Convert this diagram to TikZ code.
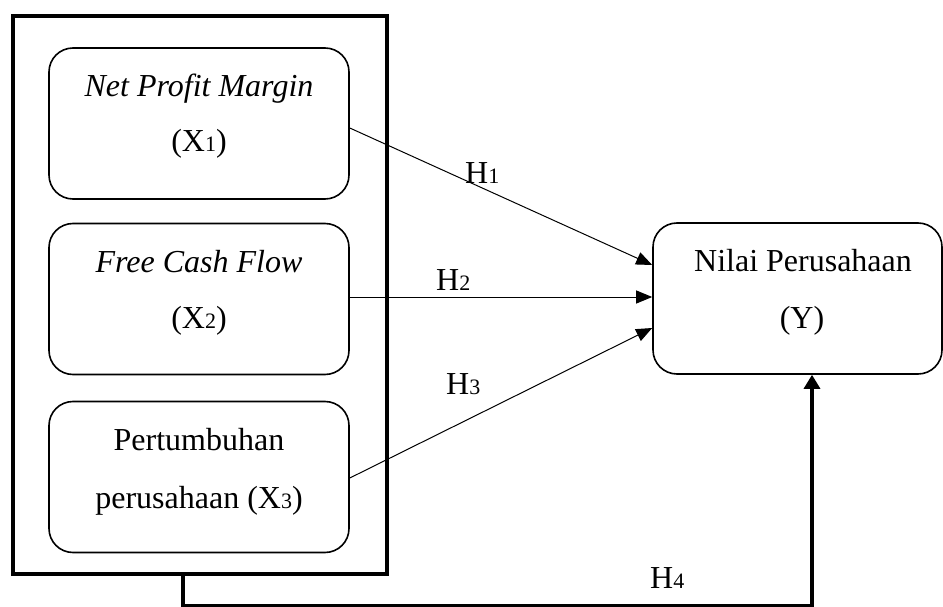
\documentclass[tikz,border=0pt]{standalone}
\usepackage{fontspec}
\setmainfont{Liberation Serif}
\usetikzlibrary{arrows.meta,calc}
\newcommand{\sbs}[1]{{\fontsize{22}{22}\selectfont #1}}
\begin{document}
\begin{tikzpicture}[x=1pt,y=-1pt,
  box/.style={draw,line width=1.6pt,rounded corners=24pt,minimum width=300pt,minimum height=151pt,inner sep=0pt},
  txt/.style={anchor=base,font=\fontsize{32}{38}\selectfont,inner sep=0pt},
  arr/.style={line width=1pt,-{Triangle[length=16pt,width=13pt]}},
  hl/.style={anchor=base west,font=\fontsize{32}{38}\selectfont,inner sep=0pt}]
\useasboundingbox (0,0) rectangle (943,607);
\node[draw,line width=4pt,minimum width=374pt,minimum height=558pt,inner sep=0pt] (outer) at (200,295) {};
\node[box] (b1) at (199,123.5) {};
\node[box] (b2) at (199,299) {};
\node[box] (b3) at (199,477) {};
\node[box,minimum width=289pt] (y) at (797.5,298.5) {};
\node[txt] (t1a) at (199,97) {\itshape Net Profit Margin};
\node[txt] (t1b) at (199,152) {(X\sbs{1})};
\node[txt] (t2a) at (199,272.7) {\itshape Free Cash Flow};
\node[txt] (t2b) at (199,328) {(X\sbs{2})};
\node[txt] (t3a) at (199,450) {Pertumbuhan};
\node[txt] (t3b) at (199,508) {perusahaan (X\sbs{3})};
\node[txt] (tya) at (803,271) {Nilai Perusahaan};
\node[txt] (tyb) at (802,328) {(Y)};
\draw[arr] (b1.east |- 0,128) -- (y.west |- 0,265);
\draw[arr] (b2.east |- 0,297) -- (y.west |- 0,297);
\draw[arr] (b3.east |- 0,478) -- (y.west |- 0,328);
\coordinate (c1) at (183,605.3);
\coordinate (c2) at (812,605.3);
\draw[line width=3.2pt,-{Triangle[length=14pt,width=16pt]}] (outer.south -| c1) -- (c1) -- (c2) -- (y.south -| c2);
\node[hl] (h1) at (465,183) {H\sbs{1}};
\node[hl] (h2) at (436,290.7) {H\sbs{2}};
\node[hl] (h3) at (446,394) {H\sbs{3}};
\node[hl] (h4) at (650,588) {H\sbs{4}};
\end{tikzpicture}
\end{document}
